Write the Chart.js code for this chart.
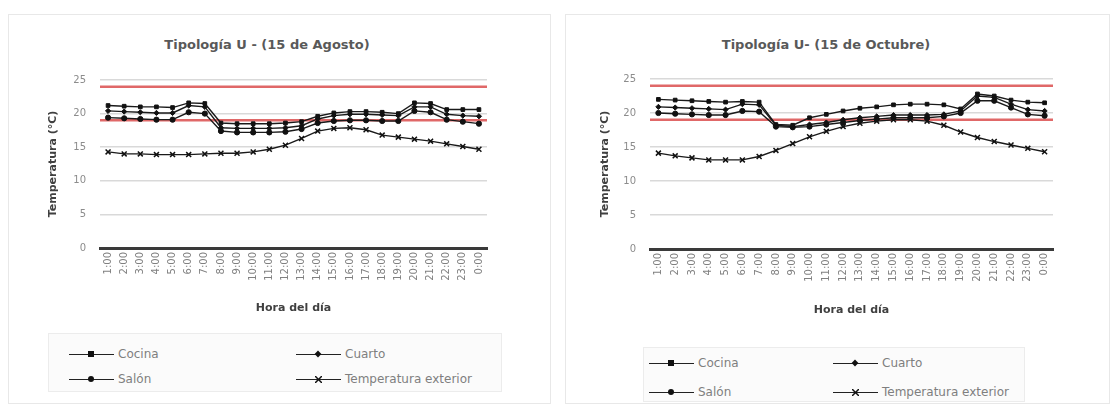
<!DOCTYPE html>
<html>
<head>
<meta charset="utf-8">
<script src="https://cdn.jsdelivr.net/npm/chart.js@4.4.0/dist/chart.umd.min.js"></script>
<style>
  body { margin: 0; background: #fff; width: 1118px; height: 414px; overflow: hidden; font-family: "DejaVu Sans", sans-serif; }
  .panel { position: absolute; top: 14px; height: 388px; border: 1px solid #e8e8e8; background: #fff; }
  .panel canvas { position: absolute; left: 0; top: 0; }
  .titulo { position: absolute; top: 22px; font-weight: bold; font-size: 13px; color: #595959; white-space: nowrap; transform: translateX(-50%); }
  .leyenda { position: absolute; border: 1px solid #ececec; background: #fbfbfb; }
  .item { position: absolute; height: 14px; font-size: 12px; color: #7f7f7f; white-space: nowrap; }
  .item .linea { position: absolute; left: 0; top: 7px; width: 45px; border-top: 1.5px solid #222; }
  .item .marca { position: absolute; left: 19px; top: 4px; width: 6px; height: 6px; background: #111; }
  .item span { position: absolute; left: 49px; top: 0; }
</style>
</head>
<body>

<div class="panel" id="panelA" style="left:8px; width:541px;">
  <div class="titulo" style="left:258px;">Tipología U - (15 de Agosto)</div>
  <canvas id="chartAgosto" width="541" height="310"></canvas>
  <div class="leyenda" id="leyAgosto" style="left:39px; top:318px; width:452px; height:57px;"></div>
</div>

<div class="panel" id="panelB" style="left:565px; width:543px;">
  <div class="titulo" style="left:260px;">Tipología U- (15 de Octubre)</div>
  <canvas id="chartOctubre" width="543" height="310"></canvas>
  <div class="leyenda" id="leyOctubre" style="left:77px; top:332px; width:380px; height:53px;"></div>
</div>

<script>
// horas del dia
const horas = ['1:00','2:00','3:00','4:00','5:00','6:00','7:00','8:00','9:00','10:00','11:00','12:00',
  '13:00','14:00','15:00','16:00','17:00','18:00','19:00','20:00','21:00','22:00','23:00','0:00'];

// 15 de Agosto
const agostoCocina   = [21.2, 21.1, 21.0, 21.0, 20.9, 21.6, 21.5, 18.6, 18.5, 18.5, 18.5, 18.6, 18.8, 19.6, 20.1, 20.3, 20.3, 20.2, 20.0, 21.6, 21.5, 20.6, 20.6, 20.6];
const agostoCuarto   = [20.4, 20.3, 20.2, 20.1, 20.1, 21.2, 21.0, 17.9, 17.8, 17.8, 17.8, 17.9, 18.2, 19.2, 19.7, 19.9, 19.9, 19.8, 19.7, 21.0, 21.0, 19.9, 19.7, 19.6];
const agostoSalon    = [19.4, 19.3, 19.2, 19.1, 19.1, 20.2, 20.0, 17.4, 17.2, 17.2, 17.2, 17.3, 17.7, 18.6, 18.9, 19.0, 19.0, 18.9, 18.9, 20.4, 20.2, 19.1, 18.8, 18.5];
const agostoExterior = [14.3, 14.0, 14.0, 13.9, 13.9, 13.9, 14.0, 14.1, 14.1, 14.3, 14.7, 15.3, 16.3, 17.4, 17.8, 17.9, 17.6, 16.8, 16.5, 16.2, 15.9, 15.5, 15.1, 14.7];

// 15 de Octubre
const octubreCocina   = [22.0, 21.9, 21.8, 21.7, 21.6, 21.7, 21.6, 18.3, 18.2, 19.3, 19.8, 20.3, 20.7, 20.9, 21.2, 21.3, 21.3, 21.2, 20.6, 22.8, 22.5, 21.9, 21.6, 21.5];
const octubreCuarto   = [20.9, 20.8, 20.7, 20.6, 20.5, 21.3, 21.2, 18.2, 18.0, 18.3, 18.6, 19.0, 19.3, 19.5, 19.7, 19.7, 19.7, 19.8, 20.3, 22.5, 22.3, 21.3, 20.5, 20.3];
const octubreSalon    = [20.0, 19.9, 19.8, 19.7, 19.7, 20.3, 20.2, 18.0, 17.9, 18.0, 18.3, 18.6, 18.9, 19.1, 19.3, 19.3, 19.3, 19.5, 20.0, 21.8, 21.8, 20.8, 19.8, 19.6];
const octubreExterior = [14.1, 13.7, 13.4, 13.1, 13.1, 13.1, 13.6, 14.5, 15.5, 16.5, 17.3, 18.0, 18.5, 18.8, 19.0, 19.0, 18.8, 18.2, 17.2, 16.4, 15.8, 15.3, 14.8, 14.3];

// limites de confort (lineas rojas)
const limiteSuperior = 24;
const limiteInferior = 19;

const nombres = ['Cocina', 'Cuarto', 'Salón', 'Temperatura exterior'];
const marcas = ['rect', 'rectRot', 'circle', 'crossRot'];

// lineas rojas horizontales
const limitesPlugin = {
  id: 'limites',
  beforeDatasetsDraw(chart) {
    const { ctx, chartArea, scales } = chart;
    ctx.save();
    ctx.strokeStyle = '#e06868';
    ctx.lineWidth = 2.5;
    [limiteSuperior, limiteInferior].forEach(v => {
      const y = scales.y.getPixelForValue(v);
      ctx.beginPath();
      ctx.moveTo(chartArea.left, y);
      ctx.lineTo(chartArea.right, y);
      ctx.stroke();
    });
    ctx.restore();
  }
};

function crearGrafica(id, series, geo) {
  const datasets = series.map((d, i) => ({
    label: nombres[i],
    data: d,
    borderColor: '#1a1a1a',
    backgroundColor: '#111',
    borderWidth: 1.4,
    pointStyle: marcas[i],
    pointRadius: marcas[i] === 'crossRot' ? 3.5 : 2.6,
    pointBorderWidth: marcas[i] === 'crossRot' ? 1.5 : 1,
    pointBorderColor: '#111',
    tension: 0
  }));

  const ctx = document.getElementById(id).getContext('2d');
  return new Chart(ctx, {
    type: 'line',
    data: { labels: horas, datasets: datasets },
    plugins: [limitesPlugin],
    options: {
      responsive: false,
      animation: false,
      layout: { padding: { left: geo.padLeft, right: geo.padRight, top: geo.padTop, bottom: 0 } },
      plugins: { legend: { display: false }, title: { display: false }, tooltip: { enabled: false } },
      scales: {
        x: {
          offset: true,
          grid: { display: false, drawTicks: false },
          border: { color: '#3a3a3a', width: 3 },
          ticks: { autoSkip: false, maxRotation: 90, minRotation: 90, padding: 4,
                   color: '#808080', font: { family: 'DejaVu Sans', size: 10 } },
          title: { display: true, text: 'Hora del día', color: '#404040',
                   font: { family: 'DejaVu Sans', size: 11, weight: 'bold' }, padding: { top: 0, bottom: geo.xTitlePad } },
          afterFit(scale) { scale.height = geo.xHeight; }
        },
        y: {
          min: 0, max: 25,
          grid: { color: ctx => ctx.tick.value === 0 ? 'rgba(0,0,0,0)' : '#d9d9d9', lineWidth: 1.5, drawTicks: false },
          border: { display: false },
          ticks: { stepSize: 5, padding: 14, color: '#8c8c8c', font: { family: 'DejaVu Sans', size: 10 } },
          title: { display: true, text: 'Temperatura (°C)', color: '#404040',
                   font: { family: 'DejaVu Sans', size: 11, weight: 'bold' }, padding: { top: geo.yTitlePad, bottom: 0 } },
          afterFit(scale) { scale.width = geo.yWidth; }
        }
      }
    }
  });
}

function crearLeyenda(id, cols, rows) {
  const cont = document.getElementById(id);
  nombres.forEach((n, i) => {
    const it = document.createElement('div');
    it.className = 'item';
    it.style.left = cols[i % 2] + 'px';
    it.style.top = rows[Math.floor(i / 2)] + 'px';
    const ln = document.createElement('div');
    ln.className = 'linea';
    const mk = document.createElement('div');
    mk.className = 'marca';
    if (marcas[i] === 'circle') mk.style.borderRadius = '50%';
    if (marcas[i] === 'rectRot') { mk.style.transform = 'rotate(45deg) scale(0.8)'; }
    if (marcas[i] === 'crossRot') { mk.style.background = 'none';
      mk.innerHTML = '<svg width="7" height="7" style="position:absolute;left:0;top:0"><path d="M0 0L7 7M7 0L0 7" stroke="#111" stroke-width="1.5"/></svg>'; }
    const tx = document.createElement('span');
    tx.textContent = n;
    it.appendChild(ln);
    it.appendChild(mk);
    it.appendChild(tx);
    cont.appendChild(it);
  });
}

crearGrafica('chartAgosto', [agostoCocina, agostoCuarto, agostoSalon, agostoExterior],
  { padLeft: 34, padRight: 63, padTop: 65, yWidth: 57, yTitlePad: 4, xHeight: 77, xTitlePad: 10 });
crearGrafica('chartOctubre', [octubreCocina, octubreCuarto, octubreSalon, octubreExterior],
  { padLeft: 29, padRight: 56, padTop: 64, yWidth: 55, yTitlePad: 4, xHeight: 76, xTitlePad: 8 });

crearLeyenda('leyAgosto', [20, 247], [13, 38]);
crearLeyenda('leyOctubre', [5, 189], [8, 37]);
</script>
</body>
</html>
